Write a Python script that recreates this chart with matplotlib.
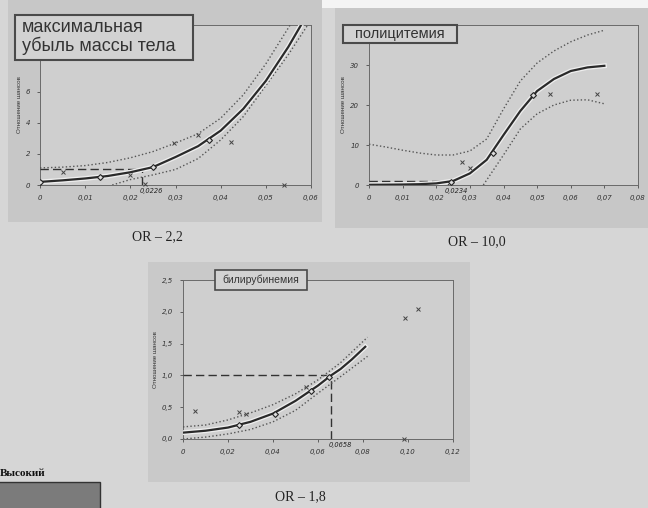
import matplotlib
matplotlib.use('Agg')
from matplotlib import pyplot as plt
from matplotlib.patches import Rectangle
import matplotlib.patheffects as pe

W, H = 648, 508

# --- график 1: максимальная убыль массы тела ---
c1_x = [0, 0.005, 0.01, 0.015, 0.02, 0.025, 0.03, 0.035, 0.04, 0.045, 0.05, 0.055, 0.058]
c1_y = [0.2, 0.3, 0.42, 0.58, 0.82, 1.15, 1.8, 2.5, 3.5, 4.9, 6.7, 8.9, 10.4]
c1_up_x = [0, 0.005, 0.01, 0.015, 0.02, 0.025, 0.03, 0.035, 0.04, 0.045, 0.05, 0.0556]
c1_up_y = [1.1, 1.15, 1.25, 1.45, 1.75, 2.15, 2.7, 3.3, 4.3, 5.8, 7.8, 10.4]
c1_lo_x = [0.016, 0.02, 0.025, 0.03, 0.035, 0.04, 0.045, 0.05, 0.055, 0.0595]
c1_lo_y = [0.0, 0.35, 0.65, 1.0, 1.7, 2.9, 4.4, 6.4, 8.4, 10.4]
c1_mk_x = [0, 0.0133, 0.0251, 0.0374]
c1_mk_y = [0.2, 0.5, 1.15, 2.9]
c1_pt_x = [0.0051, 0.02, 0.0232, 0.0296, 0.0349, 0.0422, 0.054]
c1_pt_y = [0.85, 0.65, 0.05, 2.7, 3.2, 2.8, 0.0]
c1_cut = 0.0226

# --- график 2: полицитемия ---
c2_x = [0, 0.005, 0.01, 0.015, 0.02, 0.025, 0.03, 0.035, 0.04, 0.045, 0.05, 0.055, 0.06, 0.065, 0.07]
c2_y = [0.05, 0.08, 0.12, 0.2, 0.4, 1.0, 2.9, 6.3, 12.5, 18.5, 23.5, 26.5, 28.5, 29.4, 29.8]
c2_up_x = [0, 0.005, 0.01, 0.015, 0.02, 0.025, 0.03, 0.035, 0.04, 0.045, 0.05, 0.055, 0.06, 0.065, 0.07]
c2_up_y = [10.2, 9.5, 8.7, 8.0, 7.5, 7.5, 8.5, 11.5, 19, 26, 30.5, 33.5, 35.8, 37.5, 38.7]
c2_lo_x = [0.034, 0.036, 0.04, 0.045, 0.05, 0.055, 0.06, 0.065, 0.07]
c2_lo_y = [0, 2.5, 7.5, 14, 17.8, 20, 21.2, 21.3, 20.3]
c2_mk_x = [0.0245, 0.0368, 0.0488]
c2_mk_y = [0.8, 8.0, 22.5]
c2_pt_x = [0.0278, 0.03, 0.0538, 0.0677]
c2_pt_y = [5.7, 4.2, 22.7, 22.7]
c2_cut = 0.0234

# --- график 3: билирубинемия ---
c3_x = [0, 0.01, 0.02, 0.03, 0.04, 0.05, 0.06, 0.0658, 0.07, 0.075, 0.081]
c3_y = [0.1, 0.13, 0.18, 0.27, 0.4, 0.6, 0.84, 1.0, 1.1, 1.25, 1.45]
c3_up_x = [0, 0.01, 0.02, 0.03, 0.04, 0.05, 0.06, 0.07, 0.082]
c3_up_y = [0.19, 0.22, 0.3, 0.41, 0.54, 0.71, 0.93, 1.2, 1.6]
c3_lo_x = [0, 0.01, 0.02, 0.03, 0.04, 0.05, 0.06, 0.07, 0.082]
c3_lo_y = [0.0, 0.03, 0.08, 0.15, 0.27, 0.45, 0.72, 0.98, 1.3]
c3_mk_x = [0.025, 0.041, 0.057, 0.065]
c3_mk_y = [0.22, 0.4, 0.75, 0.97]
c3_pt_x = [0.0052, 0.0249, 0.028, 0.0548, 0.0985, 0.1044, 0.098]
c3_pt_y = [0.44, 0.43, 0.39, 0.81, 1.9, 2.04, 0.0]
c3_cut = 0.0658

fig = plt.figure(figsize=(6.48, 5.08), dpi=100)
fig.patch.set_facecolor('#d6d6d6')
sans = 'Liberation Sans'
serif = 'Liberation Serif'


def rect(x0, y0, x1, y1):
    return [x0 / W, 1 - y1 / H, (x1 - x0) / W, (y1 - y0) / H]


def box(x0, y0, x1, y1, fc, ec='none', lw=0, z=-5):
    fig.add_artist(Rectangle((x0 / W, 1 - y1 / H), (x1 - x0) / W, (y1 - y0) / H,
                             transform=fig.transFigure, fc=fc, ec=ec, lw=lw, zorder=z))


def lab(v, d):
    return '0' if v == 0 else f'{v:.{d}f}'.replace('.', ',')


def chart(pos, cx, cy, ux, uy, lx, ly, mx, my, px, py, cut, xlim, ylim, xt, yt, xd, yd):
    ax = fig.add_axes(rect(*pos))
    ax.set_facecolor('#cfcfcf')
    ax.set_xlim(*xlim)
    ax.set_ylim(*ylim)
    for s in ax.spines.values():
        s.set_color('#6a6a6a')
        s.set_linewidth(0.7)
    ax.set_xticks(xt)
    ax.set_xticklabels([lab(v, xd) for v in xt])
    ax.set_yticks(yt)
    if yd:
        ax.set_yticklabels([f'{v:.{yd}f}'.replace('.', ',') for v in yt])
    else:
        ax.set_yticklabels([str(int(v)) for v in yt])
    ax.tick_params(length=2, width=0.5, pad=5, labelsize=5, colors='#333333')
    for t in ax.get_xticklabels() + ax.get_yticklabels():
        t.set_fontstyle('italic')
    ax.set_ylabel('Отношение шансов', fontsize=4.5, family=sans, color='#333333', labelpad=3)
    # OR = 1 и точка отсечения
    ax.plot([0, cut], [1, 1], ls=(0, (6, 3)), color='#333333', lw=1.0, zorder=3)
    ax.plot([cut, cut], [0, 1], ls=(0, (6, 3)), color='#333333', lw=1.0, zorder=3)
    ax.annotate(lab(cut, 4), xy=(cut, 0), xycoords=('data', 'axes fraction'),
                xytext=(-2, -4.2), textcoords='offset points', fontsize=4.8,
                fontstyle='italic', color='#222222', ha='left', va='center')
    ax.plot(ux, uy, ls=':', color='#555555', lw=1.0, zorder=4)
    ax.plot(lx, ly, ls=':', color='#555555', lw=1.0, zorder=4)
    ax.plot(cx, cy, color='#2a2a2a', lw=1.6, zorder=5,
            path_effects=[pe.Stroke(linewidth=3.5, foreground='#eeeeee'), pe.Normal()])
    ax.plot(mx, my, ls='none', marker='D', ms=3, mfc='#dddddd', mec='#222222', mew=0.8, zorder=6)
    ax.plot(px, py, ls='none', marker='x', ms=2.5, mew=0.7, color='#444444', zorder=6,
            clip_on=False)
    return ax


# подложки графиков
box(238, 0, 648, 8, '#f4f4f4')
box(8, 0, 322, 222, '#c7c7c7')
box(335, 8, 648, 228, '#c7c7c7')
box(148, 262, 470, 482, '#c9c9c9')

chart((40, 25, 311, 185), c1_x, c1_y, c1_up_x, c1_up_y, c1_lo_x, c1_lo_y,
      c1_mk_x, c1_mk_y, c1_pt_x, c1_pt_y, c1_cut, (0, 0.06), (0, 10.3),
      [0, 0.01, 0.02, 0.03, 0.04, 0.05, 0.06], [0, 2, 4, 6], 2, 0)
chart((369, 25, 638, 185), c2_x, c2_y, c2_up_x, c2_up_y, c2_lo_x, c2_lo_y,
      c2_mk_x, c2_mk_y, c2_pt_x, c2_pt_y, c2_cut, (0, 0.08), (0, 40),
      [0, 0.01, 0.02, 0.03, 0.04, 0.05, 0.06, 0.07, 0.08], [0, 10, 20, 30], 2, 0)
chart((183, 280, 453, 439), c3_x, c3_y, c3_up_x, c3_up_y, c3_lo_x, c3_lo_y,
      c3_mk_x, c3_mk_y, c3_pt_x, c3_pt_y, c3_cut, (0, 0.12), (0, 2.5),
      [0, 0.02, 0.04, 0.06, 0.08, 0.1, 0.12], [0, 0.5, 1.0, 1.5, 2.0, 2.5], 2, 1)

# рамки с названиями
box(15, 15, 193, 60, '#d2d2d2', ec='#4a4a4a', lw=1.5, z=8)
fig.text(22 / W, 1 - 37 / H, 'максимальная\nубыль массы тела', fontsize=13, family=sans,
         color='#333333', va='center', ha='left', linespacing=1.05, zorder=9)
box(343, 25, 457, 43, '#d2d2d2', ec='#4a4a4a', lw=1.5, z=8)
fig.text(400 / W, 1 - 34 / H, 'полицитемия', fontsize=10.5, family=sans,
         color='#333333', va='center', ha='center', zorder=9)
box(215, 270, 307, 290, '#d2d2d2', ec='#4a4a4a', lw=1.2, z=8)
fig.text(261 / W, 1 - 280 / H, 'билирубинемия', fontsize=7.5, family=sans,
         color='#333333', va='center', ha='center', zorder=9)

# подписи
fig.text(157 / W, 1 - 237 / H, 'OR – 2,2', fontsize=10, family=serif, color='#222222',
         ha='center', va='center')
fig.text(477 / W, 1 - 242 / H, 'OR – 10,0', fontsize=10, family=serif, color='#222222',
         ha='center', va='center')
fig.text(300 / W, 1 - 497 / H, 'OR – 1,8', fontsize=10, family=serif, color='#222222',
         ha='center', va='center')
fig.text(0, 1 - 473 / H, 'Высокий', fontsize=8, family=serif, weight='bold',
         color='#111111', ha='left', va='center')
box(-2, 482, 100, 510, '#7b7b7b', ec='#333333', lw=1.0, z=-4)

fig.savefig('out.png', dpi=100, facecolor=fig.get_facecolor())
